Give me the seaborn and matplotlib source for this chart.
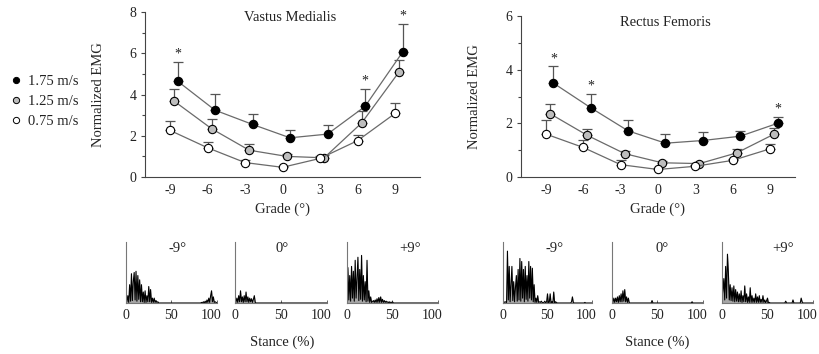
import numpy as np
import pandas as pd
import seaborn as sns
import matplotlib.pyplot as plt
from matplotlib.lines import Line2D
from matplotlib.transforms import ScaledTranslation

# Mean normalized EMG by grade, three walking speeds
grades = [-9, -6, -3, 0, 3, 6, 9]
speeds = ['1.75 m/s', '1.25 m/s', '0.75 m/s']

vm_fast = [4.65, 3.24, 2.55, 1.90, 2.08, 3.42, 6.05]
vm_fast_sd = [0.93, 0.78, 0.50, 0.37, 0.42, 0.84, 1.35]
vm_mid = [3.68, 2.34, 1.30, 1.00, 0.93, 2.62, 5.10]
vm_mid_sd = [0.60, 0.45, 0.30, 0.10, 0.15, 0.57, 0.55]
vm_slow = [2.26, 1.42, 0.70, 0.47, 0.90, 1.76, 3.08]
vm_slow_sd = [0.45, 0.30, 0.12, 0.05, 0.10, 0.30, 0.53]
vm_sig = [-9, 6, 9]

rf_fast = [3.50, 2.58, 1.72, 1.26, 1.36, 1.52, 2.00]
rf_fast_sd = [0.62, 0.50, 0.42, 0.33, 0.33, 0.20, 0.22]
rf_mid = [2.36, 1.55, 0.87, 0.53, 0.50, 0.90, 1.60]
rf_mid_sd = [0.37, 0.25, 0.10, 0.05, 0.05, 0.15, 0.23]
rf_slow = [1.60, 1.10, 0.46, 0.28, 0.40, 0.62, 1.05]
rf_slow_sd = [0.53, 0.28, 0.16, 0.05, 0.05, 0.06, 0.18]
rf_sig = [-9, -6, 9]

# Raw EMG examples (relative amplitude), 0-100 % stance in 1 % steps
stance = list(range(101))
vm_neg9 = [0.15, 0.02, 0.12, 0.01, 0.30, 0.03, 0.48, 0.04, 0.35, 0.50,
           0.05, 0.52, 0.03, 0.45, 0.06, 0.38, 0.02, 0.30, 0.02, 0.18,
           0.01, 0.20, 0.01, 0.12, 0.02, 0.27, 0.02, 0.22, 0.01, 0.08,
           0.01, 0.08, 0.01, 0.04, 0.01, 0.02, 0, 0, 0, 0,
           0, 0, 0, 0, 0, 0, 0, 0, 0, 0,
           0, 0, 0, 0, 0, 0, 0, 0, 0, 0,
           0, 0, 0, 0, 0, 0, 0, 0, 0, 0,
           0, 0, 0, 0, 0, 0, 0, 0, 0, 0,
           0, 0, 0, 0.01, 0, 0.02, 0, 0.03, 0, 0.05,
           0.01, 0.08, 0.01, 0.12, 0.20, 0.02, 0.10, 0.01, 0.02, 0.01,
           0]
vm_zero = [0.05, 0.01, 0.08, 0.01, 0.12, 0.02, 0.20, 0.02, 0.10, 0.01,
           0.12, 0.02, 0.18, 0.02, 0.10, 0.01, 0.08, 0.02, 0.07, 0.01,
           0.06, 0.12, 0.01, 0, 0, 0, 0, 0, 0, 0,
           0, 0, 0, 0, 0, 0, 0, 0, 0, 0,
           0, 0, 0, 0, 0, 0, 0, 0, 0, 0,
           0, 0, 0, 0, 0, 0, 0, 0, 0, 0,
           0, 0, 0, 0, 0, 0, 0, 0, 0, 0,
           0, 0, 0, 0, 0, 0, 0, 0, 0, 0,
           0, 0, 0, 0, 0, 0, 0, 0, 0, 0,
           0, 0, 0, 0, 0, 0, 0, 0, 0, 0,
           0]
vm_pos9 = [0.30, 0.58, 0.05, 0.45, 0.03, 0.60, 0.08, 0.52, 0.03, 0.70,
           0.08, 0.40, 0.75, 0.04, 0.55, 0.06, 0.78, 0.03, 0.45, 0.05,
           0.35, 0.02, 0.70, 0.03, 0.20, 0.01, 0.10, 0.01, 0.02, 0.04,
           0.01, 0.05, 0.01, 0.07, 0.01, 0.09, 0.01, 0.10, 0.01, 0.06,
           0.01, 0.04, 0.01, 0.03, 0.01, 0.02, 0, 0.02, 0, 0.01,
           0.02, 0, 0, 0, 0, 0, 0, 0, 0, 0,
           0, 0, 0, 0, 0, 0, 0, 0, 0, 0,
           0, 0, 0, 0, 0, 0, 0, 0, 0, 0,
           0, 0, 0, 0, 0, 0, 0, 0, 0, 0,
           0, 0, 0, 0, 0, 0, 0, 0, 0, 0,
           0]
rf_neg9 = [0.01, 0.02, 0.01, 0.02, 0.01, 0.85, 0.05, 0.60, 0.02, 0.30,
           0.60, 0.04, 0.35, 0.02, 0.25, 0.45, 0.03, 0.55, 0.05, 0.73,
           0.03, 0.68, 0.08, 0.55, 0.02, 0.60, 0.06, 0.45, 0.03, 0.68,
           0.08, 0.60, 0.05, 0.57, 0.02, 0.30, 0.01, 0.08, 0.01, 0.12,
           0.01, 0.02, 0.01, 0.03, 0.01, 0, 0.01, 0.03, 0, 0.02,
           0.15, 0, 0.01, 0.15, 0, 0.02, 0, 0.18, 0, 0.02,
           0.01, 0, 0, 0, 0, 0, 0, 0, 0, 0,
           0, 0, 0, 0, 0, 0, 0, 0.02, 0.10, 0.01,
           0, 0, 0, 0, 0, 0, 0, 0, 0, 0,
           0, 0, 0.01, 0, 0, 0, 0, 0, 0, 0,
           0]
rf_zero = [0.05, 0.01, 0.08, 0.01, 0.08, 0.02, 0.10, 0.01, 0.12, 0.02,
           0.15, 0.02, 0.20, 0.03, 0.22, 0.02, 0.10, 0.01, 0.08, 0,
           0, 0, 0, 0, 0, 0, 0, 0, 0, 0,
           0, 0, 0, 0, 0, 0, 0, 0, 0, 0,
           0, 0, 0, 0, 0.04, 0, 0, 0, 0, 0,
           0, 0, 0, 0, 0, 0, 0, 0, 0, 0,
           0, 0, 0, 0, 0, 0, 0, 0, 0, 0,
           0, 0, 0, 0, 0, 0, 0, 0, 0, 0,
           0, 0, 0, 0, 0, 0, 0, 0, 0.02, 0,
           0, 0, 0, 0, 0, 0, 0, 0, 0, 0,
           0]
rf_pos9 = [0.10, 0.20, 0.40, 0.05, 0.60, 0.08, 0.80, 0.50, 0.05, 0.30,
           0.04, 0.25, 0.03, 0.28, 0.02, 0.22, 0.03, 0.18, 0.02, 0.15,
           0.02, 0.20, 0.01, 0.12, 0.02, 0.28, 0.02, 0.15, 0.01, 0.10,
           0.01, 0.25, 0.01, 0.12, 0.01, 0.08, 0.01, 0.15, 0.01, 0.10,
           0.01, 0.12, 0.01, 0.06, 0.01, 0.12, 0.01, 0.05, 0, 0.04,
           0.08, 0, 0.01, 0, 0, 0, 0, 0, 0, 0,
           0, 0, 0, 0, 0, 0, 0, 0, 0, 0,
           0.03, 0, 0, 0, 0, 0, 0, 0, 0.05, 0,
           0, 0, 0, 0, 0, 0, 0, 0.08, 0.02, 0,
           0, 0, 0, 0, 0, 0, 0, 0, 0, 0,
           0]
trace_labels = ['-9°', '0°', '+9°']

sns.set_theme(style='white')
plt.rcParams['font.family'] = ['Liberation Serif', 'DejaVu Serif']
plt.rcParams['text.color'] = '#222222'
plt.rcParams['axes.unicode_minus'] = False

fig = plt.figure(figsize=(8.2, 3.54), dpi=100)
W, H = 820, 354


def px_axes(x0, x1, ytop, ybot):
    return fig.add_axes([x0 / W, 1 - ybot / H, (x1 - x0) / W, (ybot - ytop) / H])


face = {'1.75 m/s': 'black', '1.25 m/s': '#bdbdbd', '0.75 m/s': 'white'}
dodge = {'1.75 m/s': 0.6, '1.25 m/s': 0.33, '0.75 m/s': 0.0}


def grade_panel(ax, series, sig, ymax, title, title_x, title_y):
    for spd, (vals, sd) in zip(speeds, series):
        xs = [g + dodge[spd] for g in grades]
        ax.errorbar(xs, vals, yerr=[[0] * len(sd), sd], fmt='none',
                    ecolor='#555555', elinewidth=0.9, capsize=3.5, capthick=0.9, zorder=1)
        df = pd.DataFrame({'grade': xs, 'emg': vals})
        sns.lineplot(data=df, x='grade', y='emg', ax=ax, color='#6a6a6a', lw=0.9,
                     marker='o', markersize=6, markerfacecolor=face[spd],
                     markeredgecolor='black', markeredgewidth=0.8, zorder=3)
        if spd == '1.75 m/s':
            for g in sig:
                i = grades.index(g)
                ax.annotate('*', (g + dodge[spd], vals[i] + sd[i]), xytext=(0, 1),
                            textcoords='offset points', ha='center', va='bottom', fontsize=10)
    ax.set_xlim(-11, 11)
    ax.set_ylim(0, ymax)
    ax.set_xticks(grades)
    ax.set_yticks(range(0, ymax + 1, 2))
    ax.set_yticks(range(1, ymax, 2), minor=True)
    ax.tick_params(axis='x', length=0, pad=5, labelsize=10, colors='#222222')
    ax.tick_params(axis='y', which='both', left=True, direction='out', length=3,
                   width=0.8, color='#444444', pad=3, labelsize=10, labelcolor='#222222')
    ax.tick_params(axis='y', which='minor', length=2)
    sns.despine(ax=ax)
    for s in ['left', 'bottom']:
        ax.spines[s].set_color('#444444')
        ax.spines[s].set_linewidth(0.8)
    ax.set_xlabel('Grade (°)', fontsize=10.5, labelpad=4)
    ax.set_ylabel('Normalized EMG', fontsize=10.5)
    ax.yaxis.set_label_coords(-0.145, 0.5)
    ax.text(title_x, title_y, title, transform=ax.transAxes, ha='center', va='center', fontsize=10.5)


ax_vm = px_axes(145, 420, 12, 177)
grade_panel(ax_vm, [(vm_fast, vm_fast_sd), (vm_mid, vm_mid_sd), (vm_slow, vm_slow_sd)],
            vm_sig, 8, 'Vastus Medialis', 0.527, 0.964)
ax_rf = px_axes(521, 795, 16, 177)
grade_panel(ax_rf, [(rf_fast, rf_fast_sd), (rf_mid, rf_mid_sd), (rf_slow, rf_slow_sd)],
            rf_sig, 6, 'Rectus Femoris', 0.526, 0.957)

handles = [Line2D([], [], ls='none', marker='o', markersize=4.5, markerfacecolor=face[s],
                  markeredgecolor='black', markeredgewidth=0.7) for s in speeds]
fig.legend(handles, speeds, loc='center left', bbox_to_anchor=(0.012, 0.713), frameon=False,
           fontsize=10.5, handlelength=0.8, handletextpad=0.45, labelspacing=0.48,
           borderpad=0, borderaxespad=0)


def trace_panel(x0, x1, amp, label, lx):
    ax = px_axes(x0, x1, 242, 303)
    ax.fill_between(stance, 0, amp, color='black', lw=0, alpha=0.35)
    ax.plot(stance, amp, color='black', lw=0.8)
    ax.set_xlim(0, 100)
    ax.set_ylim(0, 1)
    ax.set_xticks([0, 50, 100])
    ax.set_yticks([])
    ax.tick_params(axis='x', direction='in', length=2, width=0.7, color='#666666',
                   pad=4, labelsize=10, labelcolor='#222222', bottom=True)
    # the "100" label sits left of its tick in the reference
    last = ax.get_xticklabels()[-1]
    last.set_horizontalalignment('right')
    last.set_transform(last.get_transform() + ScaledTranslation(4 / 100, 0, fig.dpi_scale_trans))
    sns.despine(ax=ax)
    for s in ['left', 'bottom']:
        ax.spines[s].set_color('#777777')
        ax.spines[s].set_linewidth(0.8)
    ax.text(lx, 0.9, label, transform=ax.transAxes, ha='center', va='center', fontsize=10.5)
    return ax


for (x0, x1), amp, lab, lx in zip([(126, 217), (235, 327), (347, 438)],
                                  [vm_neg9, vm_zero, vm_pos9], trace_labels, [0.57, 0.51, 0.69]):
    trace_panel(x0, x1, amp, lab, lx)
for (x0, x1), amp, lab, lx in zip([(503, 592), (612, 703), (722, 813)],
                                  [rf_neg9, rf_zero, rf_pos9], trace_labels, [0.58, 0.55, 0.67]):
    trace_panel(x0, x1, amp, lab, lx)

fig.text(282 / W, 1 - 342 / H, 'Stance (%)', ha='center', va='center', fontsize=10.5)
fig.text(657 / W, 1 - 342 / H, 'Stance (%)', ha='center', va='center', fontsize=10.5)

fig.savefig('out.png', dpi=100, facecolor='white')
plt.close(fig)
